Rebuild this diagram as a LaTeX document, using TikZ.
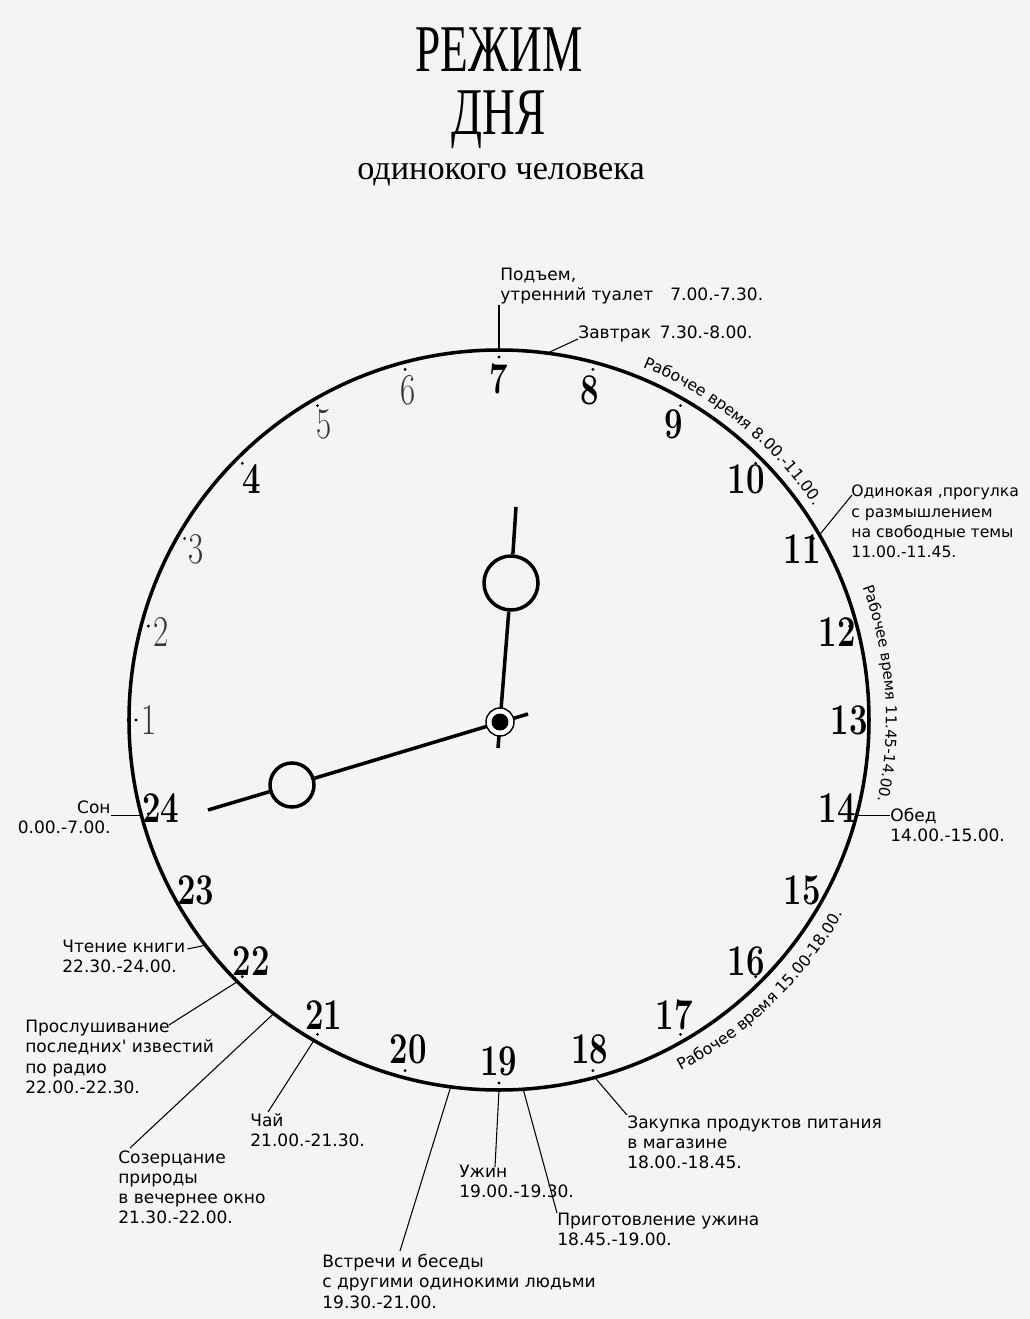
\documentclass[tikz,border=0pt]{standalone}
\usepackage{fontspec}
\usepackage{graphicx}
\usetikzlibrary{decorations.text}
\newfontfamily\labelfont{DejaVu Sans}
\newfontfamily\titlefont{Liberation Serif}
\newcommand\arcfont{\labelfont\fontsize{9}{10}\selectfont}
\newcommand\arcfontsmall{\labelfont\fontsize{8.5}{10}\selectfont}
\definecolor{paper}{HTML}{F4F4F4}

\begin{document}
\begin{tikzpicture}[x=0.02cm, y=0.02cm,
    note/.style={inner sep=0pt, align=left, font=\labelfont\fontsize{9.7}{11.5}\selectfont},
    leader/.style={line width=0.6pt},
    hand/.style={line width=2pt},
    ring/.style={circle, draw, line width=2pt, fill=paper, inner sep=0pt},
    hour/.style={inner sep=0pt, xscale=0.75, font=\fontsize{25}{25}\selectfont\bfseries},
    thinhour/.style={hour, font=\fontsize{25}{25}\selectfont, text=black!80},
    headline/.style={anchor=base, inner sep=0pt, xscale=0.68, font=\titlefont\fontsize{38}{38}\selectfont}]
  \fill[paper] (-499,-599) rectangle (531,720);
  \useasboundingbox (-499,-599) rectangle (531,720);

  \node[headline] (regime) at (0,648) {РЕЖИМ};
  \node[headline] (day) at (0,585) {ДНЯ};
  \node[anchor=base, inner sep=0pt, font=\titlefont\fontsize{19.5}{20}\selectfont] (lonely) at (2,540) {одинокого человека};

  \draw[line width=2pt] (0,0) circle[radius=370];
  \foreach \h in {1,...,24}
    \fill ({90-(\h-7)*15}:363) circle[radius=1.6];
  \foreach \h in {4,7,8,...,24}
    \node[hour] (n\h) at ({350*cos(90-(\h-7)*15)},{341*sin(90-(\h-7)*15)}) {\h};
  \foreach \h in {1,2,3,5,6}
    \node[thinhour] (n\h) at ({350*cos(90-(\h-7)*15)},{341*sin(90-(\h-7)*15)}) {\h};

  \coordinate (tipA) at (17,213);
  \coordinate (tailA) at (-1,-28);
  \coordinate (tipB) at (-291,-90);
  \coordinate (tailB) at (29,6);
  \node[ring, minimum size=1.08cm] (ringA) at (12,137) {};
  \node[ring, minimum size=0.88cm] (ringB) at (-207,-65) {};
  \draw[hand] (tailA) -- (ringA);
  \draw[hand] (ringA) -- (tipA);
  \draw[hand] (tailB) -- (ringB);
  \draw[hand] (ringB) -- (tipB);
  \node[circle, draw, fill=white, line width=0.8pt, minimum size=0.56cm, inner sep=0pt] (hub) at (1,-2) {};
  \node[circle, fill=black, minimum size=0.34cm, inner sep=0pt] (pin) at (hub) {};

  \path[decorate, decoration={text along path, text align=center,
      text={|\arcfont|Рабочее время 8.00.-11.00.}}]
    (81:381) arc[start angle=81, end angle=21, radius=381];
  \path[decorate, decoration={text along path, text align=center,
      text={|\arcfontsmall|Рабочее время 11.45-14.00.}}]
    (34:387) arc[start angle=34, end angle=-26, radius=387];
  \path[decorate, decoration={text along path, text align=center,
      text={|\arcfont|Рабочее время 15.00-18.00.}}]
    (-76:395) arc[start angle=-76, end angle=-16, radius=395];

  \coordinate (t7) at (90:370);
  \coordinate (t7h) at (82.5:370);
  \coordinate (t11) at (30:370);
  \coordinate (t14) at (-15:370);
  \coordinate (t18) at (-75:370);
  \coordinate (t18q) at (-86.25:370);
  \coordinate (t19) at (-90:370);
  \coordinate (t19h) at (-97.5:370);
  \coordinate (t21) at (240:370);
  \coordinate (t21h) at (232.5:370);
  \coordinate (t22) at (225:370);
  \coordinate (t22h) at (217.5:370);
  \coordinate (t24) at (195:370);

  \node[note, anchor=north west] (wake) at (1,452) {Подъем,\\утренний туалет\quad 7.00.-7.30.};
  \node[note, anchor=base west] (breakfast) at (79,381) {Завтрак\enspace 7.30.-8.00.};
  \node[note, anchor=north west, font=\labelfont\fontsize{8.9}{11.5}\selectfont] (walk) at (352,235) {Одинокая ,прогулка\\с размышлением\\на свободные темы\\11.00.-11.45.};
  \node[note, anchor=north west] (lunch) at (391,-88) {Обед\\14.00.-15.00.};
  \node[note, anchor=north west] (shop) at (128,-395) {Закупка продуктов питания\\в магазине\\18.00.-18.45.};
  \node[note, anchor=north west] (cook) at (58,-493) {Приготовление ужина\\18.45.-19.00.};
  \node[note, anchor=north west] (supper) at (-40,-445) {Ужин\\19.00.-19.30.};
  \node[note, anchor=north west] (meet) at (-177,-534) {Встречи и беседы\\с другими одинокими людьми\\19.30.-21.00.};
  \node[note, anchor=north west] (tea) at (-249,-393) {Чай\\21.00.-21.30.};
  \node[note, anchor=north west] (nature) at (-381,-430) {Созерцание\\природы\\в вечернее окно\\21.30.-22.00.};
  \node[note, anchor=north west] (radio) at (-474,-300) {Прослушивание\\последних' известий\\по радио\\22.00.-22.30.};
  \node[note, anchor=north west] (reading) at (-437,-220) {Чтение книги\\22.30.-24.00.};
  \node[note, anchor=north east, align=right] (sleep) at (-388,-80) {Сон\\0.00.-7.00.};

  \draw[leader] (t7) -- (t7 |- wake.south);
  \draw[leader] (t7h) -- (breakfast.base west);
  \draw[leader] (t11) -- ([shift={(1,-10)}]walk.north west);
  \draw[leader] (t14) -- (t14 -| lunch.west);
  \draw[leader] (t18) -- (shop.north west);
  \draw[leader] (t18q) -- (cook.north west);
  \draw[leader] (t19) -- ([shift={(36,-2)}]supper.north west);
  \draw[leader] (t19h) -- ([shift={(78,3)}]meet.north west);
  \draw[leader] (t21) -- ([shift={(18,1)}]tea.north west);
  \draw[leader] (t21h) -- ([shift={(12,2)}]nature.north west);
  \draw[leader] (t22) -- ([shift={(144,-5)}]radio.north west);
  \draw[leader] (t22h) -- ([shift={(2,-9)}]reading.north east);
  \draw[leader] (t24) -- (t24 -| sleep.east);
\end{tikzpicture}
\end{document}
